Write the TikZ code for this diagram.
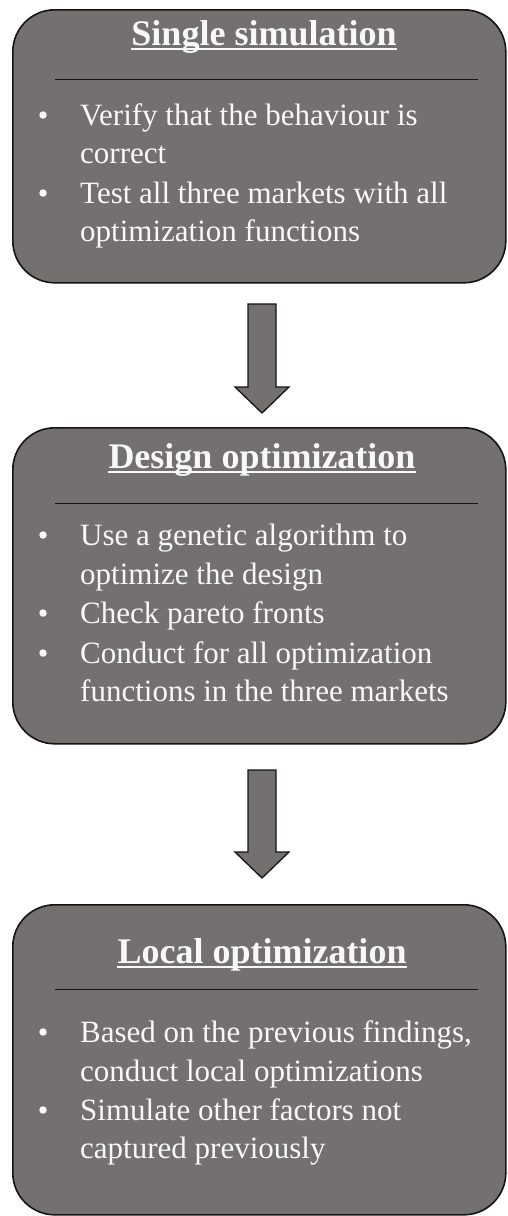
\documentclass[tikz,border=0pt]{standalone}
\usepackage{fontspec}
\setmainfont{Liberation Serif}
\usetikzlibrary{calc}
\definecolor{boxgray}{RGB}{116,112,111}
\definecolor{txtwhite}{RGB}{248,248,248}
\definecolor{edge}{RGB}{20,20,20}
\begin{document}
\begin{tikzpicture}[x=1pt,y=-1pt,
  stagebox/.style={draw=edge, line width=1.6pt, fill=boxgray, rounded corners=42pt,
    inner sep=0pt, anchor=north west, minimum width=493pt},
  ttl/.style={anchor=base, text=txtwhite, inner sep=0pt,
    font=\fontsize{36}{40}\selectfont\bfseries},
  uline/.style={draw=txtwhite, line width=1.1pt},
  body/.style={anchor=base west, text=txtwhite, inner sep=0pt,
    font=\fontsize{31}{39}\selectfont},
  bul/.style={circle, fill=txtwhite, inner sep=0pt, minimum size=7.5pt},
  sepline/.style={draw=edge, line width=0.9pt},
  blockarrow/.style={draw=edge, line width=1.3pt, fill=boxgray, line join=miter}]
\useasboundingbox (0,0) rectangle (507,1216);

% ---------- Box 1 ----------
\node[stagebox, minimum height=273pt] (b1) at (12,9) {};
\node[ttl] (t1) at (264,45) {Single simulation};
\draw[uline] ($(t1.base west)+(0,4)$) -- ($(t1.base east)+(0,4)$);
\coordinate (s1a) at (55,79); \coordinate (s1b) at (478,79);
\draw[sepline] (s1a) -- (s1b);
\node[bul] (p11) at (43,115) {};
\node[body] (l11) at (80,125) {Verify that the behaviour is};
\node[body] (l12) at (80,163.5) {correct};
\node[bul] (p12) at (43,193) {};
\node[body] (l13) at (80,203) {Test all three markets with all};
\node[body] (l14) at (80,241.5) {optimization functions};

% ---------- Arrow 1 ----------
\coordinate (a1) at (262,304);
\draw[blockarrow] ($(a1)+(-14,0)$) -- ($(a1)+(14,0)$) -- ($(a1)+(14,83)$) -- ($(a1)+(27,83)$)
  -- ($(a1)+(0,109)$) -- ($(a1)+(-27,83)$) -- ($(a1)+(-14,83)$) -- cycle;

% ---------- Box 2 ----------
\node[stagebox, minimum height=316pt] (b2) at (12,427) {};
\node[ttl] (t2) at (262,468) {Design optimization};
\draw[uline] ($(t2.base west)+(0,4)$) -- ($(t2.base east)+(0,4)$);
\coordinate (s2a) at (55,503); \coordinate (s2b) at (478,503);
\draw[sepline] (s2a) -- (s2b);
\node[bul] (p21) at (43,535) {};
\node[body] (l21) at (80,545) {Use a genetic algorithm to};
\node[body] (l22) at (80,584.5) {optimize the design};
\node[bul] (p22) at (43,613) {};
\node[body] (l23) at (80,623) {Check pareto fronts};
\node[bul] (p23) at (43,653) {};
\node[body] (l24) at (80,663) {Conduct for all optimization};
\node[body] (l25) at (80,701.5) {functions in the three markets};

% ---------- Arrow 2 ----------
\coordinate (a2) at (262,770);
\draw[blockarrow] ($(a2)+(-14,0)$) -- ($(a2)+(14,0)$) -- ($(a2)+(14,82)$) -- ($(a2)+(27,82)$)
  -- ($(a2)+(0,108)$) -- ($(a2)+(-27,82)$) -- ($(a2)+(-14,82)$) -- cycle;

% ---------- Box 3 ----------
\node[stagebox, minimum height=310pt] (b3) at (12,904) {};
\node[ttl] (t3) at (262,963) {Local optimization};
\draw[uline] ($(t3.base west)+(0,4)$) -- ($(t3.base east)+(0,4)$);
\coordinate (s3a) at (55,989); \coordinate (s3b) at (478,989);
\draw[sepline] (s3a) -- (s3b);
\node[bul] (p31) at (43,1032) {};
\node[body] (l31) at (80,1042) {Based on the previous findings,};
\node[body] (l32) at (80,1081) {conduct local optimizations};
\node[bul] (p32) at (43,1110) {};
\node[body] (l33) at (80,1120) {Simulate other factors not};
\node[body] (l34) at (80,1158.5) {captured previously};
\end{tikzpicture}
\end{document}
